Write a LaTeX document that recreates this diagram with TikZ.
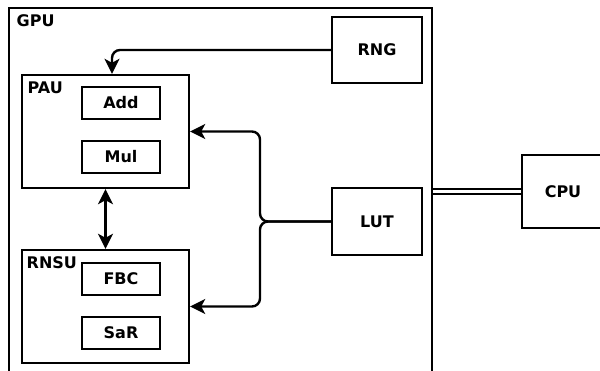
\documentclass[tikz,border=0pt]{standalone}
\usepackage{fontspec}
\setmainfont{DejaVu Sans}
\usetikzlibrary{arrows.meta}
\begin{document}
\begin{tikzpicture}[x=1pt,y=-1pt,
  every node/.style={font=\fontsize{16}{19}\selectfont\bfseries},
  box/.style={draw,line width=2.4pt,rectangle,inner sep=0pt},
  lbl/.style={inner sep=0pt,anchor=base west},
  conn/.style={line width=2.4pt},
  arr/.style={conn,-{Stealth[length=15pt,width=15pt,inset=4pt]}},
  darr/.style={conn,{Stealth[length=15pt,width=15pt,inset=4pt]}-{Stealth[length=15pt,width=15pt,inset=4pt]}}]
\useasboundingbox (0,0) rectangle (600,370);
\clip (0,0) rectangle (600,370);
% outer blocks
\node[box,minimum width=423pt,minimum height=382pt] (GPU) at (220.5,199) {};
\node[lbl] (gpul) at (16.5,26) {GPU};
\node[box,minimum width=82pt,minimum height=73pt] (CPU) at (563,191.5) {CPU};
% PAU
\node[box,minimum width=167pt,minimum height=113pt] (PAU) at (105.5,131.5) {};
\node[lbl] (paul) at (27.5,93) {PAU};
\node[box,minimum width=78pt,minimum height=32pt] (Add) at (121,103) {Add};
\node[box,minimum width=78pt,minimum height=32pt] (Mul) at (121,157) {Mul};
% RNSU
\node[box,minimum width=167pt,minimum height=113pt] (RNSU) at (105.5,306.5) {};
\node[lbl] (rnsul) at (26.5,268) {RNSU};
\node[box,minimum width=78pt,minimum height=32pt] (FBC) at (121,279) {FBC};
\node[box,minimum width=78pt,minimum height=32pt] (SaR) at (121,333) {SaR};
% RNG, LUT
\node[box,minimum width=90pt,minimum height=66pt] (RNG) at (377,50) {RNG};
\node[box,minimum width=90pt,minimum height=67pt] (LUT) at (377,221.5) {LUT};
% connectors
\draw[arr,rounded corners=8pt] (RNG.west) -| ([xshift=6.5pt]PAU.north);
\coordinate (j) at (260,221.5);
\draw[arr,rounded corners=8pt] (LUT.west) -- (j) |- (PAU.east);
\draw[arr,rounded corners=8pt] (LUT.west) -- (j) |- (RNSU.east);
\draw[darr] (PAU.south) -- (RNSU.north);
\draw[line width=2pt,double,double distance=2.2pt] (GPU.east |- CPU.west) -- (CPU.west);
\end{tikzpicture}
\end{document}
